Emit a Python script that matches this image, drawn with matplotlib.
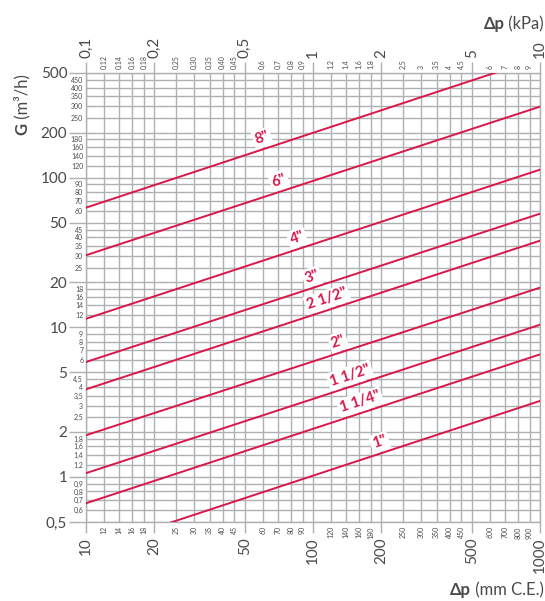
import numpy as np
import matplotlib
matplotlib.use('Agg')
import matplotlib.pyplot as plt
from matplotlib.ticker import FixedLocator, FixedFormatter

plt.rcParams['font.family'] = ['Lato', 'DejaVu Sans']

# pipe sizes and flow G (m3/h) read at 10 and 1000 mm C.E.
sizes = ['8"', '6"', '4"', '3"', '2 1/2"', '2"', '1 1/2"', '1 1/4"', '1"']
g_at_10 = [63, 30.3, 11.4, 5.86, 3.85, 1.90, 1.06, 0.667, 0.323]
g_at_1000 = [630, 298, 113, 57.4, 37.9, 18.4, 10.4, 6.59, 3.22]
dp_ends = [10, 1000]

# bottom axis, mm C.E.
x_major = [10, 20, 50, 100, 200, 500, 1000]
x_minor = [12, 14, 16, 18, 25, 30, 35, 40, 45, 60, 70, 80, 90,
           120, 140, 160, 180, 250, 300, 350, 400, 450, 600, 700, 800, 900]

# top axis, kPa
kpa_major = [0.1, 0.2, 0.5, 1, 2, 5, 10]
kpa_major_labels = ['0,1', '0,2', '0,5', '1', '2', '5', '10']
kpa_minor = [0.12, 0.14, 0.16, 0.18, 0.25, 0.30, 0.35, 0.40, 0.45, 0.6, 0.7, 0.8, 0.9,
             1.2, 1.4, 1.6, 1.8, 2.5, 3, 3.5, 4, 4.5, 6, 7, 8, 9]
kpa_minor_labels = ['0,12', '0,14', '0,16', '0,18', '0,25', '0,30', '0,35', '0,40', '0,45',
                    '0,6', '0,7', '0,8', '0,9', '1,2', '1,4', '1,6', '1,8',
                    '2,5', '3', '3,5', '4', '4,5', '6', '7', '8', '9']

# left axis, m3/h
g_major = [0.5, 1, 2, 5, 10, 20, 50, 100, 200, 500]
g_major_labels = ['0,5', '1', '2', '5', '10', '20', '50', '100', '200', '500']
g_minor = [0.6, 0.7, 0.8, 0.9, 1.2, 1.4, 1.6, 1.8, 2.5, 3, 3.5, 4, 4.5, 6, 7, 8, 9,
           12, 14, 16, 18, 25, 30, 35, 40, 45, 60, 70, 80, 90,
           120, 140, 160, 180, 250, 300, 350, 400, 450]
g_minor_labels = ['0,6', '0,7', '0,8', '0,9', '1,2', '1,4', '1,6', '1,8', '2,5', '3', '3,5',
                  '4', '4,5', '6', '7', '8', '9', '12', '14', '16', '18', '25', '30', '35',
                  '40', '45', '60', '70', '80', '90', '120', '140', '160', '180',
                  '250', '300', '350', '400', '450']

grey = '#aeb0b2'
red = '#d9174a'
txt = '#4a4a4a'

fig = plt.figure(figsize=(5.45, 6.01), dpi=100)
ax = fig.add_axes([86 / 545, 1 - 522 / 601, (540 - 86) / 545, (522 - 73) / 601])
ax.set_xscale('log')
ax.set_yscale('log')
ax.set_xlim(10, 1000)
ax.set_ylim(0.5, 500)

ax.xaxis.set_major_locator(FixedLocator(x_major))
ax.xaxis.set_major_formatter(FixedFormatter([str(v) for v in x_major]))
ax.xaxis.set_minor_locator(FixedLocator(x_minor))
ax.xaxis.set_minor_formatter(FixedFormatter([str(v) for v in x_minor]))
ax.yaxis.set_major_locator(FixedLocator(g_major))
ax.yaxis.set_major_formatter(FixedFormatter(g_major_labels))
ax.yaxis.set_minor_locator(FixedLocator(g_minor))
ax.yaxis.set_minor_formatter(FixedFormatter(g_minor_labels))

ax.grid(which='both', color=grey, lw=1.0)
ax.set_axisbelow(True)
for s in ax.spines.values():
    s.set_color(grey)
    s.set_linewidth(1.0)

ax.tick_params(axis='y', which='major', length=12, width=1.0, color=grey, pad=1.5,
               labelsize=11, labelcolor=txt)
ax.tick_params(axis='y', which='minor', length=0, pad=2, labelsize=5, labelcolor=txt)
ax.tick_params(axis='x', which='major', length=8, width=1.0, color=grey, pad=3,
               labelsize=11, labelcolor=txt, labelrotation=90)
ax.tick_params(axis='x', which='minor', length=0, pad=3, labelsize=5, labelcolor=txt,
               labelrotation=90)

top = ax.twiny()
top.set_xscale('log')
top.set_xlim(0.1, 10)
top.xaxis.set_major_locator(FixedLocator(kpa_major))
top.xaxis.set_major_formatter(FixedFormatter(kpa_major_labels))
top.xaxis.set_minor_locator(FixedLocator(kpa_minor))
top.xaxis.set_minor_formatter(FixedFormatter(kpa_minor_labels))
top.tick_params(axis='x', which='major', length=8, width=1.0, color=grey, pad=3,
                labelsize=11, labelcolor=txt, labelrotation=90)
top.tick_params(axis='x', which='minor', length=0, pad=3, labelsize=5, labelcolor=txt,
                labelrotation=90)
for s in top.spines.values():
    s.set_visible(False)

for g1, g2 in zip(g_at_10, g_at_1000):
    ax.plot(dp_ends, [g1, g2], color=red, lw=1.4, zorder=3)

# label placement along each line
label_dp = [61.5, 73, 87.7, 102, 119, 133, 150, 166, 203]
p = ax.transData.transform([(dp_ends[0], g_at_10[0]), (dp_ends[1], g_at_1000[0])])
angle = np.degrees(np.arctan2(p[1, 1] - p[0, 1], p[1, 0] - p[0, 0]))
for name, g1, g2, d in zip(sizes, g_at_10, g_at_1000, label_dp):
    g = 10 ** np.interp(np.log10(d), np.log10(dp_ends), np.log10([g1, g2]))
    ax.annotate(name, xy=(d, g), xytext=(-3, 10.5), textcoords='offset pixels',
                rotation=angle, rotation_mode='anchor', ha='center', va='center',
                color=red, fontsize=10.5, fontweight='bold', zorder=4,
                bbox=dict(boxstyle='square,pad=0.15', fc='white', ec='none'))

# axis titles
t1 = fig.text(544 / 545, 1 - 598 / 601, ' (mm C.E.)', ha='right', va='bottom',
              fontsize=12, color=txt)
ax.annotate('\u0394p', xy=(0, 0), xycoords=t1, ha='right', va='bottom',
            fontsize=12, fontweight='bold', color=txt, annotation_clip=False)

t2 = fig.text(544 / 545, 1 - 32 / 601, ' (kPa)', ha='right', va='bottom',
              fontsize=12, color=txt)
ax.annotate('\u0394p', xy=(0, 0), xycoords=t2, ha='right', va='bottom',
            fontsize=12, fontweight='bold', color=txt, annotation_clip=False)

t3 = fig.text(14 / 545, 1 - 135 / 601, 'G', rotation=90, ha='left', va='bottom',
              fontsize=12, fontweight='bold', color=txt)
ax.annotate(' (m\u00b3/h)', xy=(0.5, 1), xycoords=t3, rotation=90, ha='center',
            va='bottom', fontsize=12, color=txt, annotation_clip=False)

fig.savefig('out.png', dpi=100)
